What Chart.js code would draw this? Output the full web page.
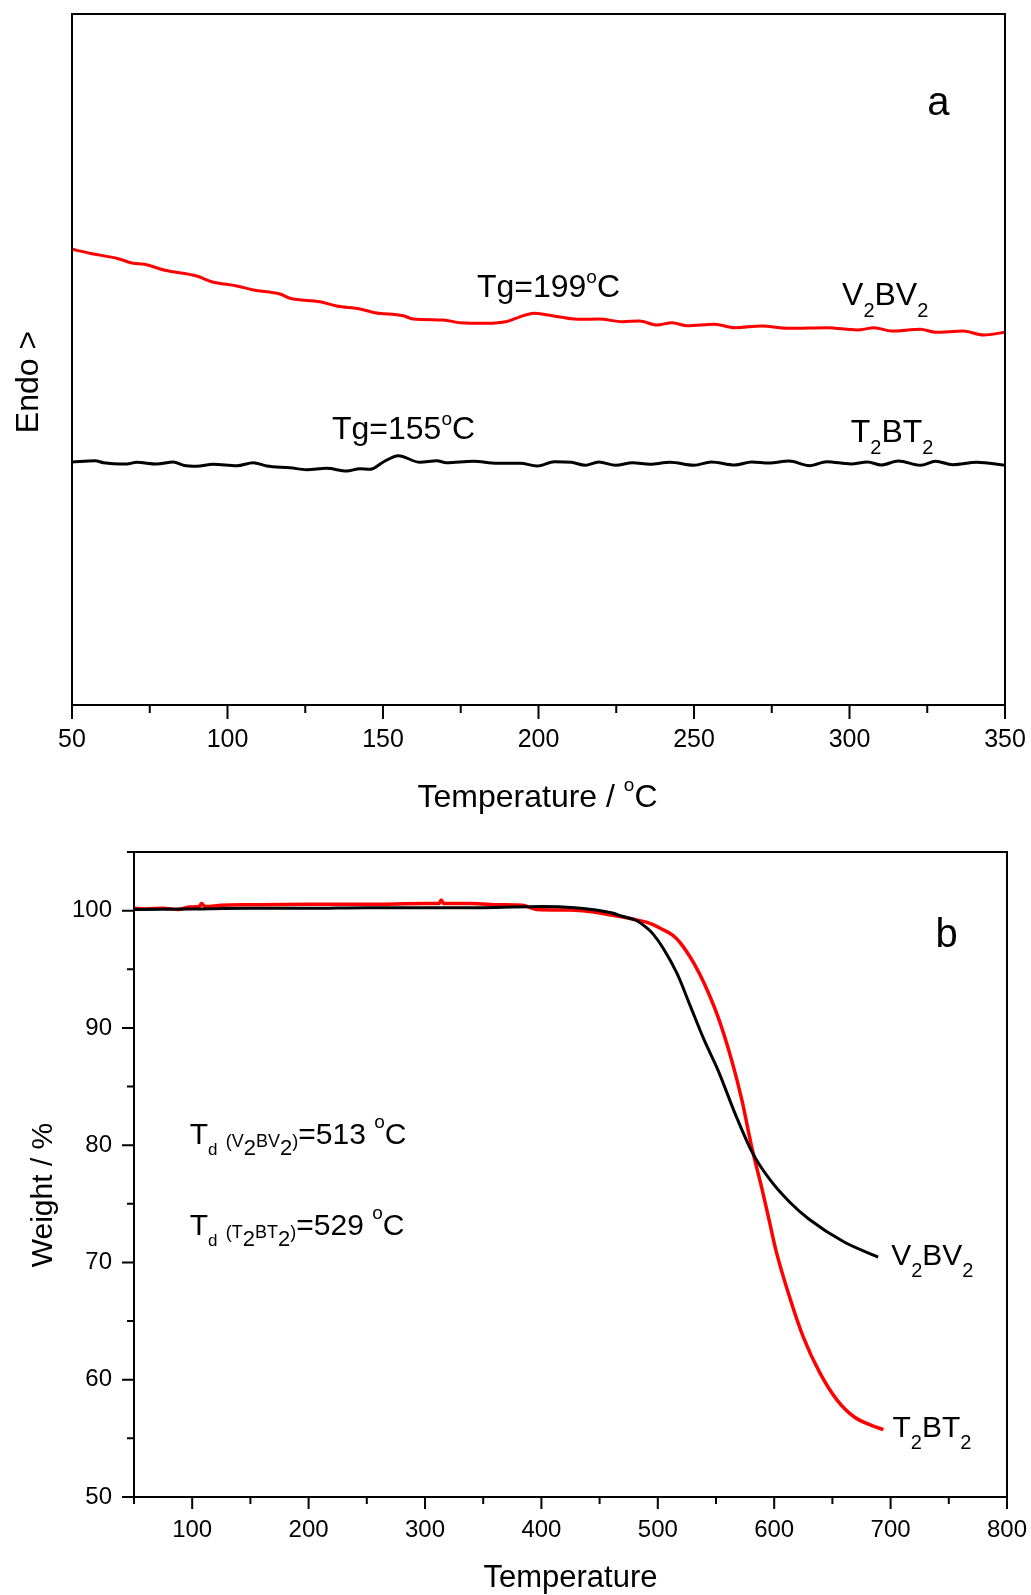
<!DOCTYPE html>
<html>
<head>
<meta charset="utf-8">
<script src="https://cdn.jsdelivr.net/npm/chart.js@4.4.0/dist/chart.umd.min.js"></script>
<style>
  html, body { margin: 0; padding: 0; background: #fff; }
  canvas { position: absolute; left: 0; }
  #dsc { top: 0; }
  #tga { top: 820px; }
</style>
</head>
<body>
<canvas id="dsc" width="1031" height="820"></canvas>
<canvas id="tga" width="1031" height="775"></canvas>
<script>
const FONT = "'Liberation Sans', Arial, Helvetica, sans-serif";

// (a) DSC, heat flow in arbitrary units (0-100 over the frame)
const dscTempV2BV2 = [50, 55.8, 64.9, 69.7, 72.9, 79.9, 90.1, 94.9, 103, 108.3, 116.9, 120.1, 129.7, 135.1, 142.6,
  147.4, 156.5, 159.7, 169.4, 174.8, 183.3, 189.8, 193.6, 198.6, 203, 212.8, 219.4, 227, 232.5, 238, 242.9,
  247.8, 256.6, 263.1, 271.9, 280.6, 292.7, 302.5, 308, 313.5, 322.8, 327.7, 336.5, 343.1, 350];
const dscHeatV2BV2 = [65.95, 65.37, 64.59, 63.92, 63.82, 62.91, 62.08, 61.26, 60.64, 60.06, 59.48, 58.86, 58.36, 57.74, 57.31,
  56.77, 56.34, 55.86, 55.72, 55.33, 55.24, 55.5, 56.1, 56.69, 56.44, 55.82, 55.86, 55.47, 55.57, 54.99, 55.33,
  54.89, 55.09, 54.6, 54.85, 54.51, 54.6, 54.27, 54.6, 54.12, 54.37, 53.94, 54.12, 53.55, 53.94];

const dscTempT2BT2 = [50, 57.4, 60.1, 67.6, 70.8, 77.2, 82.6, 85.8, 90.1, 95.4, 103, 108.3, 112.6, 120.1, 125.5,
  131.9, 138.3, 142.6, 145.8, 150.1, 154.9, 161.9, 167.3, 170.4, 179, 186.6, 194.1, 199.6, 205.1, 210.6, 215,
  219.4, 224.8, 230.3, 235.8, 242.3, 250, 255.5, 263.1, 268.6, 274.1, 280.6, 287.2, 292.7, 300.4, 305.8,
  310.2, 315.7, 322.8, 327.7, 333.2, 340.9, 350];
const dscHeatT2BT2 = [35.17, 35.35, 35.06, 34.88, 35.12, 34.88, 35.17, 34.69, 34.54, 34.83, 34.63, 35.06, 34.59, 34.34, 34.05,
  34.25, 33.86, 34.2, 34.11, 35.17, 36.08, 35.12, 35.35, 35.06, 35.27, 34.98, 34.98, 34.59, 35.21, 35.12, 34.69,
  35.17, 34.69, 35.06, 34.83, 35.12, 34.69, 35.17, 34.73, 35.17, 35.02, 35.31, 34.63, 35.21, 34.88, 35.17,
  34.73, 35.31, 34.69, 35.27, 34.78, 35.12, 34.69];

const dscXTicks = [50, 100, 150, 200, 250, 300, 350];
const dscXMinor = [75, 125, 175, 225, 275, 325];

// (b) TGA, weight in %
const tgaTempV2BV2 = [50, 100, 150, 200, 250, 300, 350, 400, 428.8, 447, 461, 470, 481.6, 490.8, 496, 504.9,
  516.6, 528.3, 540, 551.8, 566.4, 581, 595.7, 613.2, 629.4, 660.1, 689.3];
const tgaWeightV2BV2 = [100.1, 100.15, 100.2, 100.2, 100.25, 100.25, 100.25, 100.35, 100.25, 100.05, 99.8, 99.5, 99.16, 98.5, 98.0, 96.75,
  94.62, 91.77, 88.93, 86.38, 82.69, 79.41, 77.14, 75.15, 73.73, 71.74, 70.46];

const tgaTempT2BT2 = [50, 60, 75, 88, 98, 106, 108, 111, 125, 150, 200, 250, 300, 312, 314, 316, 340, 364, 384,
  396, 425, 443, 456, 470, 481.6, 490.8, 496, 502, 513, 519, 531.3, 540, 551.8, 563.5, 572.3, 581, 589.8, 595.7,
  601.5, 613.2, 625, 639.6, 654.2, 668.8, 683.5, 693.8];
const tgaWeightT2BT2 = [100.2, 100.15, 100.2, 100.1, 100.3, 100.35, 100.6, 100.35, 100.45, 100.5, 100.55, 100.55, 100.6, 100.6, 100.9, 100.6, 100.6, 100.5, 100.45,
  100.1, 100.05, 99.9, 99.7, 99.45, 99.2, 99.0, 98.8, 98.5, 97.9, 97.3, 95.47, 93.77, 90.92, 87.23, 83.82, 79.7, 76.15, 73.59,
  71.03, 67.05, 63.64, 60.52, 58.24, 56.82, 56.11, 55.75];

const tgaXTicks = [100, 200, 300, 400, 500, 600, 700, 800];
const tgaXMinor = [50, 150, 250, 350, 450, 550, 650, 750];
const tgaYTicks = [50, 60, 70, 80, 90, 100];
const tgaYMinor = [55, 65, 75, 85, 95, 105];

const pairs = (xs, ys) => xs.map((x, i) => ({ x: x, y: ys[i] }));

// rich text pieces: normal, subscript, superscript
const txt = (t, size) => ({ t: t, size: size, dy: 0 });
const sub = (t, size = 20, dy = 12) => ({ t: t, size: size, dy: dy });
const sup = (t, size = 19, dy = -14) => ({ t: t, size: size, dy: dy });

function richWidth(ctx, parts) {
  let w = 0;
  parts.forEach(p => { ctx.font = p.size + "px " + FONT; w += ctx.measureText(p.t).width; });
  return w;
}

function drawRich(ctx, parts, x, y, align) {
  let cx = align === "center" ? x - richWidth(ctx, parts) / 2 : x;
  ctx.textAlign = "left";
  ctx.textBaseline = "alphabetic";
  ctx.fillStyle = "#000";
  parts.forEach(p => {
    ctx.font = p.size + "px " + FONT;
    ctx.fillText(p.t, cx, y + p.dy);
    cx += ctx.measureText(p.t).width;
  });
}

const tdParts = (a, b, value) => [
  txt("T", 30), { t: "d", size: 17, dy: 11 }, txt(" ", 30),
  { t: "(" + a, size: 18, dy: 3 }, { t: "2", size: 22, dy: 11 },
  { t: "B" + b, size: 18, dy: 3 }, { t: "2", size: 22, dy: 11 },
  { t: ")", size: 18, dy: 3 }, txt("=" + value + " ", 30), sup("o", 19, -16), txt("C", 30)
];

const dscLabels = [
  { x: 325, y: 85.4, parts: [txt("a", 40)] },
  { x: 180.2, y: 59.0, parts: [txt("Tg=199", 32), sup("o"), txt("C", 32)] },
  { x: 297.6, y: 57.9, parts: [txt("V", 32), sub("2"), txt("BV", 32), sub("2")] },
  { x: 133.6, y: 38.5, parts: [txt("Tg=155", 32), sup("o"), txt("C", 32)] },
  { x: 300.4, y: 38.1, parts: [txt("T", 32), sub("2"), txt("BT", 32), sub("2")] }
];

const tgaLabels = [
  { x: 738.5, y: 96.86, parts: [txt("b", 40)] },
  { x: 97.9, y: 80.07, parts: tdParts("V", "V", "513") },
  { x: 97.9, y: 72.31, parts: tdParts("T", "T", "529") },
  { x: 700.5, y: 69.75, parts: [txt("V", 30), sub("2"), txt("BV", 30), sub("2")] },
  { x: 701.6, y: 55.09, parts: [txt("T", 30), sub("2"), txt("BT", 30), sub("2")] }
];

// the frame sits where the layout padding puts it, not where tick labels push it
const noScalePadding = s => { s.paddingLeft = 0; s.paddingRight = 0; s.paddingTop = 0; s.paddingBottom = 0; };

// frame, outward ticks, axis titles and labels
function framePlugin(cfg) {
  return {
    id: "frame",
    afterDatasetsDraw(chart) {
      const ctx = chart.ctx;
      const a = chart.chartArea;
      const xs = chart.scales.x, ys = chart.scales.y;
      ctx.save();
      ctx.strokeStyle = "#000";
      ctx.lineWidth = 2;
      ctx.strokeRect(a.left, a.top, a.right - a.left, a.bottom - a.top);
      ctx.beginPath();
      cfg.xMajor.forEach(v => { const p = xs.getPixelForValue(v); ctx.moveTo(p, a.bottom); ctx.lineTo(p, a.bottom + cfg.major); });
      cfg.xMinor.forEach(v => { const p = xs.getPixelForValue(v); ctx.moveTo(p, a.bottom); ctx.lineTo(p, a.bottom + cfg.minor); });
      (cfg.yMajor || []).forEach(v => { const p = ys.getPixelForValue(v); ctx.moveTo(a.left, p); ctx.lineTo(a.left - cfg.major, p); });
      (cfg.yMinor || []).forEach(v => { const p = ys.getPixelForValue(v); ctx.moveTo(a.left, p); ctx.lineTo(a.left - cfg.minor, p); });
      ctx.stroke();

      cfg.labels.forEach(l => drawRich(ctx, l.parts, xs.getPixelForValue(l.x), ys.getPixelForValue(l.y), "left"));

      const cx = (a.left + a.right) / 2, cy = (a.top + a.bottom) / 2;
      drawRich(ctx, cfg.xTitle, cx + cfg.xTitleDx, a.bottom + cfg.xTitleDy, "center");
      ctx.translate(a.left - cfg.yTitleDx, cy + cfg.yTitleDy);
      ctx.rotate(-Math.PI / 2);
      drawRich(ctx, cfg.yTitle, 0, 0, "center");
      ctx.restore();
    }
  };
}

new Chart(document.getElementById("dsc"), {
  type: "scatter",
  data: {
    datasets: [
      { data: pairs(dscTempV2BV2, dscHeatV2BV2), showLine: true, borderColor: "#ff0000", borderWidth: 3, cubicInterpolationMode: "monotone" },
      { data: pairs(dscTempT2BT2, dscHeatT2BT2), showLine: true, borderColor: "#000000", borderWidth: 3, cubicInterpolationMode: "monotone" }
    ]
  },
  options: {
    responsive: false,
    animation: false,
    devicePixelRatio: 1,
    layout: { padding: { left: 72, top: 14, right: 26, bottom: 0 } },
    elements: { point: { radius: 0 } },
    plugins: { legend: { display: false }, tooltip: { enabled: false } },
    scales: {
      x: {
        type: "linear", min: 50, max: 350,
        afterBuildTicks: s => { s.ticks = dscXTicks.map(v => ({ value: v })); },
        afterFit: s => { s.height = 115; noScalePadding(s); },
        grid: { display: false, drawTicks: false },
        border: { display: false },
        ticks: { font: { family: FONT, size: 25 }, color: "#000", padding: 20, maxRotation: 0, autoSkip: false }
      },
      y: { type: "linear", display: false, min: 0, max: 100 }
    }
  },
  plugins: [framePlugin({
    xMajor: dscXTicks, xMinor: dscXMinor, major: 14, minor: 8,
    labels: dscLabels,
    xTitle: [txt("Temperature / ", 32), sup("o", 19, -16), txt("C", 32)], xTitleDx: -1, xTitleDy: 101.5,
    yTitle: [txt("Endo >", 32)], yTitleDx: 34.5, yTitleDy: 22.5
  })]
});

new Chart(document.getElementById("tga"), {
  type: "scatter",
  data: {
    datasets: [
      { data: pairs(tgaTempV2BV2, tgaWeightV2BV2), showLine: true, borderColor: "#000000", borderWidth: 3, cubicInterpolationMode: "monotone" },
      { data: pairs(tgaTempT2BT2, tgaWeightT2BT2), showLine: true, borderColor: "#ff0000", borderWidth: 3.5, cubicInterpolationMode: "monotone" }
    ]
  },
  options: {
    responsive: false,
    animation: false,
    devicePixelRatio: 1,
    layout: { padding: { left: 0, top: 32, right: 24, bottom: 0 } },
    elements: { point: { radius: 0 } },
    plugins: { legend: { display: false }, tooltip: { enabled: false } },
    scales: {
      x: {
        type: "linear", min: 50, max: 800,
        afterBuildTicks: s => { s.ticks = tgaXTicks.map(v => ({ value: v })); },
        afterFit: s => { s.height = 98; noScalePadding(s); },
        grid: { display: false, drawTicks: false },
        border: { display: false },
        ticks: { font: { family: FONT, size: 24 }, color: "#000", padding: 19, maxRotation: 0, autoSkip: false }
      },
      y: {
        type: "linear", min: 50, max: 105,
        afterBuildTicks: s => { s.ticks = tgaYTicks.map(v => ({ value: v })); },
        afterFit: s => { s.width = 134; noScalePadding(s); },
        grid: { display: false, drawTicks: false },
        border: { display: false },
        ticks: { font: { family: FONT, size: 24 }, color: "#000", padding: 22, autoSkip: false }
      }
    }
  },
  plugins: [framePlugin({
    xMajor: tgaXTicks, xMinor: tgaXMinor, yMajor: tgaYTicks, yMinor: tgaYMinor, major: 12, minor: 7,
    labels: tgaLabels,
    xTitle: [txt("Temperature", 31)], xTitleDx: 0, xTitleDy: 89.7,
    yTitle: [txt("Weight / %", 30)], yTitleDx: 82, yTitleDy: 20.5
  })]
});
</script>
</body>
</html>
